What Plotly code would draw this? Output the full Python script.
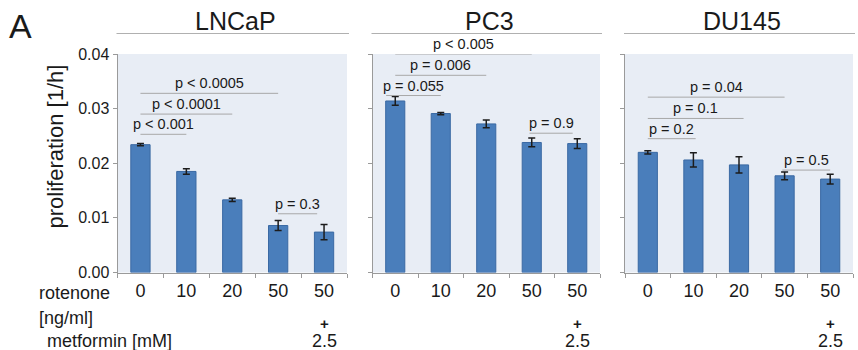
import plotly.graph_objects as go

# Cell lines and treatment groups
cell_lines = ["LNCaP", "PC3", "DU145"]
groups = ["0", "10", "20", "50", "50 "]          # last group: 50 ng/ml rotenone + 2.5 mM metformin
group_labels = ["0", "10", "20", "50", "50"]

# Proliferation rate [1/h] (mean, SD)
lncap_mean = [0.0234, 0.0185, 0.0133, 0.0086, 0.0074]
lncap_sd = [0.0002, 0.0005, 0.0003, 0.0009, 0.0014]
pc3_mean = [0.0314, 0.0291, 0.0272, 0.0238, 0.0236]
pc3_sd = [0.0008, 0.0002, 0.0007, 0.0008, 0.0009]
du145_mean = [0.0220, 0.0206, 0.0197, 0.0177, 0.0171]
du145_sd = [0.0003, 0.0013, 0.0015, 0.0007, 0.0009]

means = [lncap_mean, pc3_mean, du145_mean]
sds = [lncap_sd, pc3_sd, du145_sd]

# Pairwise comparisons: (from group, to group, bracket height, label)
lncap_pvals = [(0, 1, 0.0253, "p < 0.001"), (0, 2, 0.0290, "p < 0.0001"),
               (0, 3, 0.0328, "p < 0.0005"), (3, 3.85, 0.01075, "p = 0.3")]
pc3_pvals = [(-0.2, 1, 0.0324, "p = 0.055"), (0, 2, 0.0361, "p = 0.006"),
             (0, 3, 0.0400, "p < 0.005"), (2.95, 3.9, 0.0255, "p = 0.9")]
du145_pvals = [(0, 1.05, 0.0245, "p = 0.2"), (0, 2.1, 0.0282, "p = 0.1"),
               (0, 3, 0.0321, "p = 0.04"), (2.95, 4.0, 0.01875, "p = 0.5")]
pvals = [lncap_pvals, pc3_pvals, du145_pvals]

W, H = 858, 350
x_domains = [(117.5, 347.0), (372.5, 600.0), (625.0, 853.0)]
y_domain = [(H - 272.5) / H, (H - 54.0) / H]

BAR = "#4a7ebb"
BAR_EDGE = "#3a69a3"
BG = "#e8edf5"
AXIS = "#9a9a9a"
FONT = "Liberation Sans, Arial, sans-serif"
INK = "#1a1a1a"

fig = go.Figure()
shapes = []
annotations = []

for k, name in enumerate(cell_lines):
    suffix = "" if k == 0 else str(k + 1)
    xa, ya = "x" + suffix, "y" + suffix
    fig.add_trace(go.Bar(
        x=groups, y=means[k],
        error_y=dict(type="data", array=sds[k], visible=True,
                     color="#1c1c1c", thickness=1.5, width=3.5),
        marker=dict(color=BAR, line=dict(color=BAR_EDGE, width=1)),
        xaxis=xa, yaxis=ya, showlegend=False,
    ))

    d0, d1 = x_domains[k]
    fig.layout["xaxis" + suffix] = dict(
        domain=[d0 / W, d1 / W], type="category", range=[-0.5, 4.5],
        anchor=ya, tickson="boundaries", ticks="outside", ticklen=4,
        tickcolor=AXIS, showline=True, linecolor=AXIS, linewidth=1,
        showgrid=False, zeroline=False, tickvals=groups, ticktext=group_labels,
        tickfont=dict(size=18, color=INK, family=FONT), ticklabelstandoff=2,
        automargin=False,
    )
    fig.layout["yaxis" + suffix] = dict(
        domain=y_domain, range=[0, 0.04], anchor=xa,
        tickvals=[0, 0.01, 0.02, 0.03, 0.04], tickformat=".2f",
        ticks="outside", ticklen=4, tickcolor=AXIS, showline=True,
        linecolor=AXIS, linewidth=1, showgrid=False, zeroline=False,
        showticklabels=(k == 0),
        tickfont=dict(size=16, color=INK, family=FONT),
        automargin=False,
    )

    # plot area background
    shapes.append(dict(type="rect", xref=xa + " domain", yref=ya + " domain",
                       x0=0, x1=1, y0=0, y1=1, fillcolor=BG,
                       line=dict(width=0), layer="below"))

    # panel title with rule underneath
    annotations.append(dict(text=name, xref="paper", yref="paper",
                            x=(d0 + d1) / 2 / W + 3 / W, y=(H - 20.5) / H,
                            showarrow=False, xanchor="center", yanchor="middle",
                            font=dict(size=25, color=INK, family=FONT)))
    shapes.append(dict(type="line", xref="paper", yref="paper",
                       x0=(d0 - 1) / W, x1=(d1 + 2) / W,
                       y0=(H - 33.5) / H, y1=(H - 33.5) / H,
                       line=dict(color="#b0b0b0", width=1.2)))

    # significance brackets
    for a, b, yv, label in pvals[k]:
        shapes.append(dict(type="line", xref=xa, yref=ya, x0=a, x1=b,
                           y0=yv, y1=yv, line=dict(color="#a8a8a8", width=1)))
        annotations.append(dict(text=label, xref=xa, yref=ya,
                                x=(a + b) / 2, y=yv, yshift=0,
                                showarrow=False, xanchor="center",
                                yanchor="bottom",
                                font=dict(size=14.5, color=INK, family=FONT)))

    # combined treatment marker under the last group
    annotations.append(dict(text="<b>+</b>", xref=xa, yref="paper", x=4,
                            y=(H - 323) / H, showarrow=False,
                            xanchor="center", yanchor="middle",
                            font=dict(size=15, color=INK, family=FONT)))
    annotations.append(dict(text="2.5", xref=xa, yref="paper", x=4,
                            y=(H - 340.5) / H, showarrow=False,
                            xanchor="center", yanchor="middle",
                            font=dict(size=18, color=INK, family=FONT)))

# row labels for the treatment axis
row_labels = [("rotenone", 37, 293), ("[ng/ml]", 37, 318), ("metformin [mM]", 45, 340.5)]
for text, px, py in row_labels:
    annotations.append(dict(text=text, xref="paper", yref="paper",
                            x=px / W, y=(H - py) / H, showarrow=False,
                            xanchor="left", yanchor="middle",
                            font=dict(size=18, color=INK, family=FONT)))

# y axis title
annotations.append(dict(text="proliferation [1/h]", xref="paper", yref="paper",
                        x=55 / W, y=(H - 146.5) / H, showarrow=False,
                        textangle=-90, xanchor="center", yanchor="middle",
                        font=dict(size=22, color=INK, family=FONT)))

# panel letter
annotations.append(dict(text="A", xref="paper", yref="paper",
                        x=20 / W, y=(H - 26) / H, showarrow=False,
                        xanchor="center", yanchor="middle",
                        font=dict(size=34, color=INK, family=FONT)))

fig.update_layout(
    width=W, height=H, margin=dict(l=0, r=0, t=0, b=0),
    paper_bgcolor="white", plot_bgcolor="rgba(0,0,0,0)",
    bargap=0.58, shapes=shapes, annotations=annotations,
    font=dict(family=FONT),
)

fig.write_html("out.html")
